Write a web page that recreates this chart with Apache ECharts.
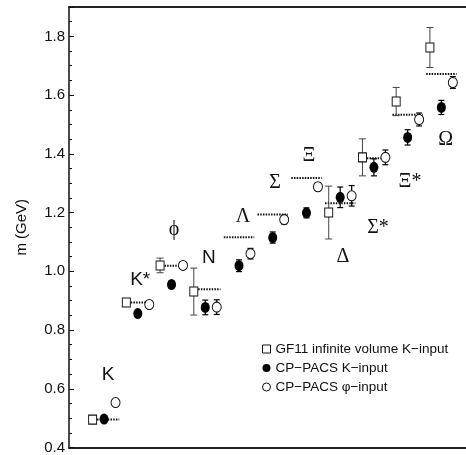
<!DOCTYPE html>
<html>
<head>
<meta charset="utf-8">
<script src="https://cdn.jsdelivr.net/npm/echarts@6/dist/echarts.min.js"></script>
<style>
  html, body { margin: 0; padding: 0; background: #fff; }
  #chart { width: 466px; height: 455px; }
</style>
</head>
<body>
<div id="chart"></div>
<script>
// Hadron masses (GeV), one entry per hadron in display order
const hadrons    = ['K', 'K*', 'ϕ', 'N', 'Λ', 'Σ', 'Ξ', 'Δ', 'Σ*', 'Ξ*', 'Ω'];
const experiment = [0.495, 0.894, 1.019, 0.939, 1.116, 1.193, 1.318, 1.232, 1.385, 1.533, 1.672];

const gf11Mass   = [0.495, 0.894, 1.020, 0.931, null, null, null, 1.200, 1.388, 1.578, 1.762];
const gf11Err    = [0,     0,     0.025, 0.080, null, null, null, 0.090, 0.063, 0.048, 0.068];

const cpKMass    = [0.497, 0.856, 0.955, 0.877, 1.019, 1.115, 1.199, 1.252, 1.354, 1.456, 1.558];
const cpKErr     = [0,     0.009, 0.012, 0.025, 0.020, 0.019, 0.017, 0.035, 0.029, 0.026, 0.024];

const cpPhiMass  = [0.553, 0.887, 1.020, 0.878, 1.060, 1.176, 1.288, 1.257, 1.388, 1.517, 1.643];
const cpPhiErr   = [0.006, 0.007, 0,     0.025, 0.018, 0.015, 0.013, 0.035, 0.025, 0.022, 0.020];

const yTickLabels = ['0.4', '0.6', '0.8', '1.0', '1.2', '1.4', '1.6', '1.8'];

const seriesNames = ['GF11 infinite volume K\u2212input', 'CP\u2212PACS K\u2212input', 'CP\u2212PACS \u03c6\u2212input'];

// Layout: horizontal offsets of each data set inside a hadron group,
// and where each hadron's name sits (group units, GeV)
const OFFSET = { gf11: -0.34, cpK: 0.0, cpPhi: 0.34, half: 0.45 };
const labelAnchors = [
  [0.12, 0.648], [1.07, 0.970], [2.07, 1.141], [3.11, 1.046], [4.12, 1.185],
  [5.07, 1.301], [6.07, 1.393], [7.08, 1.049], [8.12, 1.148], [9.07, 1.304], [10.13, 1.447]
];
const sansLabels = new Set(['K', 'K*', 'N']);

function points(masses, off) {
  const out = [];
  masses.forEach((m, i) => { if (m != null) out.push([i + off, m]); });
  return out;
}
function errors(masses, errs, off) {
  const out = [];
  masses.forEach((m, i) => {
    if (m != null && errs[i]) out.push([i + off, m - errs[i], m + errs[i]]);
  });
  return out;
}
function errorBarSeries(data, color, width, cap) {
  return {
    type: 'custom', silent: true, z: 2,
    renderItem(params, api) {
      const x = api.value(0);
      const lo = api.coord([x, api.value(1)]);
      const hi = api.coord([x, api.value(2)]);
      const st = { stroke: color, lineWidth: width };
      return {
        type: 'group',
        children: [
          { type: 'line', shape: { x1: lo[0], y1: lo[1], x2: hi[0], y2: hi[1] }, style: st },
          { type: 'line', shape: { x1: lo[0] - cap, y1: lo[1], x2: lo[0] + cap, y2: lo[1] }, style: st },
          { type: 'line', shape: { x1: hi[0] - cap, y1: hi[1], x2: hi[0] + cap, y2: hi[1] }, style: st }
        ]
      };
    },
    data: data
  };
}

const chart = echarts.init(document.getElementById('chart'));

const option = {
  animation: false,
  backgroundColor: '#fff',
  grid: { left: 69, right: 0, top: 7, bottom: 7 },
  xAxis: [
    { type: 'value', min: -1.04, max: 10.73, position: 'bottom',
      axisLine: { show: true, onZero: false, lineStyle: { color: '#222', width: 2 } },
      axisTick: { show: false }, axisLabel: { show: false }, splitLine: { show: false } },
    { type: 'value', min: -1.04, max: 10.73, position: 'top',
      axisLine: { show: true, onZero: false, lineStyle: { color: '#222', width: 2 } },
      axisTick: { show: false }, axisLabel: { show: false }, splitLine: { show: false } }
  ],
  yAxis: {
    type: 'value', min: 0.4, max: 1.9, interval: 0.2,
    name: 'm (GeV)', nameLocation: 'middle', nameRotate: 90, nameGap: 40,
    nameTextStyle: { fontFamily: 'Liberation Sans', fontSize: 15, color: '#111' },
    axisLine: { show: true, onZero: false, lineStyle: { color: '#111', width: 1.5 } },
    axisTick: { show: true, inside: true, length: 5, lineStyle: { color: '#111' } },
    minorTick: { show: true, splitNumber: 4, length: 3, lineStyle: { color: '#111' } },
    splitLine: { show: false },
    axisLabel: {
      fontFamily: 'Liberation Sans', fontSize: 15, color: '#111', margin: 4,
      formatter(v) {
        const s = v.toFixed(1);
        return yTickLabels.includes(s) ? s : '';
      }
    }
  },
  legend: {
    orient: 'vertical', left: 257, top: 337, itemGap: 5,
    itemWidth: 8, itemHeight: 8,
    itemStyle: { borderWidth: 1 },
    textStyle: { fontFamily: 'Liberation Sans', fontSize: 13.5, color: '#111' },
    data: seriesNames
  },
  series: [
    // experimental masses: short dotted lines
    {
      type: 'custom', silent: true, z: 1,
      renderItem(params, api) {
        const i = api.value(0), m = api.value(1);
        const a = api.coord([i - OFFSET.half, m]);
        const b = api.coord([i + OFFSET.half, m]);
        return { type: 'line', shape: { x1: a[0], y1: a[1], x2: b[0], y2: b[1] },
                 style: { stroke: '#111', lineWidth: 2, lineDash: [1.5, 1.2] } };
      },
      data: experiment.map((m, i) => [i, m])
    },
    errorBarSeries(errors(gf11Mass, gf11Err, OFFSET.gf11), '#444', 1, 3.5),
    errorBarSeries(errors(cpKMass, cpKErr, OFFSET.cpK), '#000', 1.2, 3),
    errorBarSeries(errors(cpPhiMass, cpPhiErr, OFFSET.cpPhi), '#000', 1.2, 3),
    {
      name: seriesNames[0], type: 'scatter', z: 5,
      symbol: 'rect', symbolSize: [8, 9],
      itemStyle: { color: '#fff', borderColor: '#111', borderWidth: 1, opacity: 1 },
      data: points(gf11Mass, OFFSET.gf11)
    },
    {
      name: seriesNames[1], type: 'scatter', z: 5,
      symbol: 'circle', symbolSize: [9, 11],
      itemStyle: { color: '#000', opacity: 1 },
      data: points(cpKMass, OFFSET.cpK)
    },
    {
      name: seriesNames[2], type: 'scatter', z: 5,
      symbol: 'circle', symbolSize: [9, 10],
      itemStyle: { color: '#fff', borderColor: '#111', borderWidth: 1, opacity: 1 },
      data: points(cpPhiMass, OFFSET.cpPhi)
    },
    // hadron names
    {
      type: 'custom', silent: true, z: 6,
      renderItem(params, api) {
        const p = api.coord([api.value(0), api.value(1)]);
        const name = hadrons[params.dataIndex];
        const sans = sansLabels.has(name);
        return {
          type: 'text', x: p[0], y: p[1],
          style: {
            text: name, fill: '#111', align: 'center', verticalAlign: 'middle',
            fontFamily: sans ? 'Liberation Sans' : 'Liberation Serif',
            fontSize: sans ? 19 : 20
          }
        };
      },
      data: labelAnchors
    }
  ]
};

chart.setOption(option);
</script>
</body>
</html>
